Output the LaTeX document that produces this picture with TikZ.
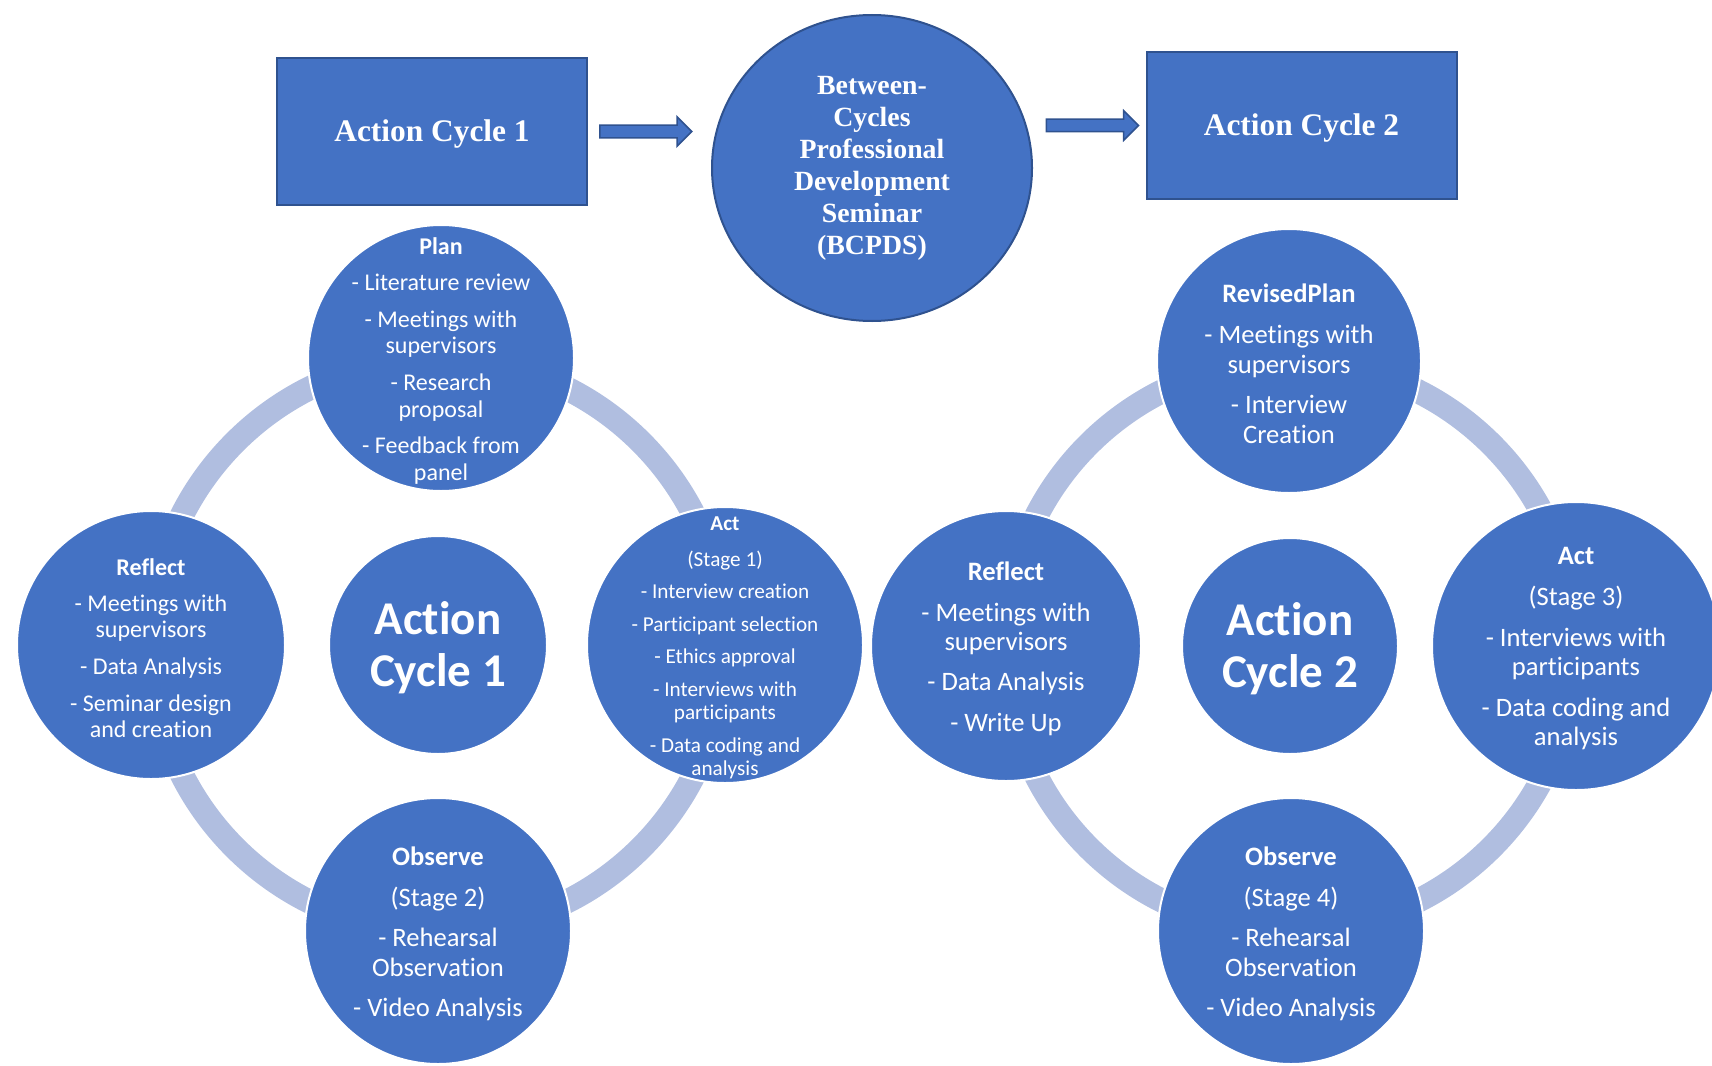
\documentclass[tikz,border=0pt]{standalone}
\usepackage{fontspec}
\setmainfont{Carlito}[Ligatures=NoCommon]
\newfontfamily\headserif{Liberation Serif}
\usetikzlibrary{positioning, shapes.geometric, shapes.arrows}
\definecolor{cycBlue}{HTML}{4472C4}
\definecolor{edgeBlue}{HTML}{2F528F}
\definecolor{ringCol}{HTML}{B0BEE0}

\newcommand{\bodyA}{\fontsize{12}{13.4}\selectfont}
\newcommand{\bodyB}{\fontsize{10.6}{11.5}\selectfont}
\newcommand{\bodyC}{\fontsize{13.3}{14.7}\selectfont}

\begin{document}
\begin{tikzpicture}[
    x=0.5pt, y=-0.5pt,
    % Node styles
    titlebox/.style={
        rectangle,
        fill=cycBlue,
        draw=edgeBlue,
        line width=1pt,
        text=white,
        font=\headserif\bfseries\fontsize{15.7}{18}\selectfont,
        text depth=1pt,
        minimum width=155pt,
        minimum height=73.5pt
    },
    seminar/.style={
        ellipse,
        fill=cycBlue,
        draw=edgeBlue,
        line width=1pt,
        text=white,
        align=center,
        font=\headserif\bfseries\fontsize{13.9}{16}\selectfont,
        minimum width=160pt,
        minimum height=153pt,
        inner sep=0pt
    },
    blockarrow/.style={
        single arrow,
        fill=cycBlue,
        draw=edgeBlue,
        line width=0.75pt,
        inner sep=2.75pt,
        minimum height=46pt,
        single arrow head extend=4.25pt,
        single arrow head indent=0pt
    },
    phase/.style={
        circle,
        fill=cycBlue,
        draw=white,
        line width=1pt,
        inner sep=0pt,
        minimum size=#1
    },
    phasetext/.style={
        text=white,
        align=center,
        inner sep=0pt,
        yshift=-1.4pt,
        font=#1
    },
    coretext/.style={
        phasetext=\bfseries\fontsize{23.5}{26}\selectfont
    },
    ring/.style={
        draw=ringCol,
        line width=12pt
    }
]
    \useasboundingbox (0,0) rectangle (1712,1065);

    % ==== TOP ROW ====
    \node[titlebox] (cycle1box) at (432,131.5) {Action Cycle 1};
    \node[seminar] (bcpds) at (872,168) {Between-\\Cycles\\Professional\\Development\\Seminar\\(BCPDS)};
    \node[titlebox] (cycle2box) at (1301.5,125.5) {Action Cycle 2};

    \node[blockarrow, right=5.5pt of cycle1box] (arrow1) {};
    \node[blockarrow, left=3pt of cycle2box] (arrow2) {};

    % ==== CENTRES AND RINGS ====
    \node[phase=109pt] (core1) at (438,645) {};
    \node[coretext] (core1txt) at (core1) {Action\\Cycle 1};
    \node[phase=108pt] (core2) at (1290,646) {};
    \node[coretext] (core2txt) at (core2) {Action\\Cycle 2};
    \draw[ring] (core1) circle[radius=143.5pt];
    \draw[ring] (core2) circle[radius=142.5pt];

    % ==== ACTION CYCLE 1 ====
    \node[phase=133pt] (plan1) at (441,358) {};
    \node[phasetext=\bodyA] (plan1txt) at (plan1) {\textbf{Plan}\\[4.8pt]- Literature review\\[4.8pt]- Meetings with\\supervisors\\[4.8pt]- Research\\proposal\\[4.8pt]- Feedback from\\panel};

    \node[phase=134pt] (reflect1) at (151,645) {};
    \node[phasetext=\fontsize{12}{13}\selectfont] (reflect1txt) at (reflect1) {\textbf{Reflect}\\[5.3pt]- Meetings with\\supervisors\\[5.3pt]- Data Analysis\\[5.3pt]- Seminar design\\and creation};

    \node[phase=138pt] (act1) at (725,645) {};
    \node[phasetext=\bodyB] (act1txt) at (act1) {\textbf{Act}\\[6.5pt](Stage 1)\\[4.5pt]- Interview creation\\[4.8pt]- Participant selection\\[4.8pt]- Ethics approval\\[4.8pt]- Interviews with\\participants\\[4.8pt]- Data coding and\\analysis};

    \node[phase=133pt] (observe1) at (438,931) {};
    \node[phasetext=\bodyC] (observe1txt) at (observe1) {\textbf{Observe}\\[5.8pt](Stage 2)\\[5.5pt]- Rehearsal\\Observation\\[5.5pt]- Video Analysis};

    % ==== ACTION CYCLE 2 ====
    \node[phase=132pt] (plan2) at (1289,361) {};
    \node[phasetext=\bodyC] (plan2txt) at (plan2) {\textbf{RevisedPlan}\\[5.8pt]- Meetings with\\supervisors\\[5.5pt]- Interview\\Creation};

    \node[phase=135pt] (reflect2) at (1006,646) {};
    \node[phasetext=\bodyC] (reflect2txt) at (reflect2) {\textbf{Reflect}\\[5.8pt]- Meetings with\\supervisors\\[5.5pt]- Data Analysis\\[5.8pt]- Write Up};

    \node[phase=144pt] (act2) at (1576,646) {};
    \node[phasetext=\bodyC] (act2txt) at (act2) {\textbf{Act}\\[5.5pt](Stage 3)\\[5.8pt]- Interviews with\\participants\\[5.8pt]- Data coding and\\analysis};

    \node[phase=133pt] (observe2) at (1291,931) {};
    \node[phasetext=\bodyC] (observe2txt) at (observe2) {\textbf{Observe}\\[5.8pt](Stage 4)\\[5.5pt]- Rehearsal\\Observation\\[5.5pt]- Video Analysis};

\end{tikzpicture}
\end{document}
